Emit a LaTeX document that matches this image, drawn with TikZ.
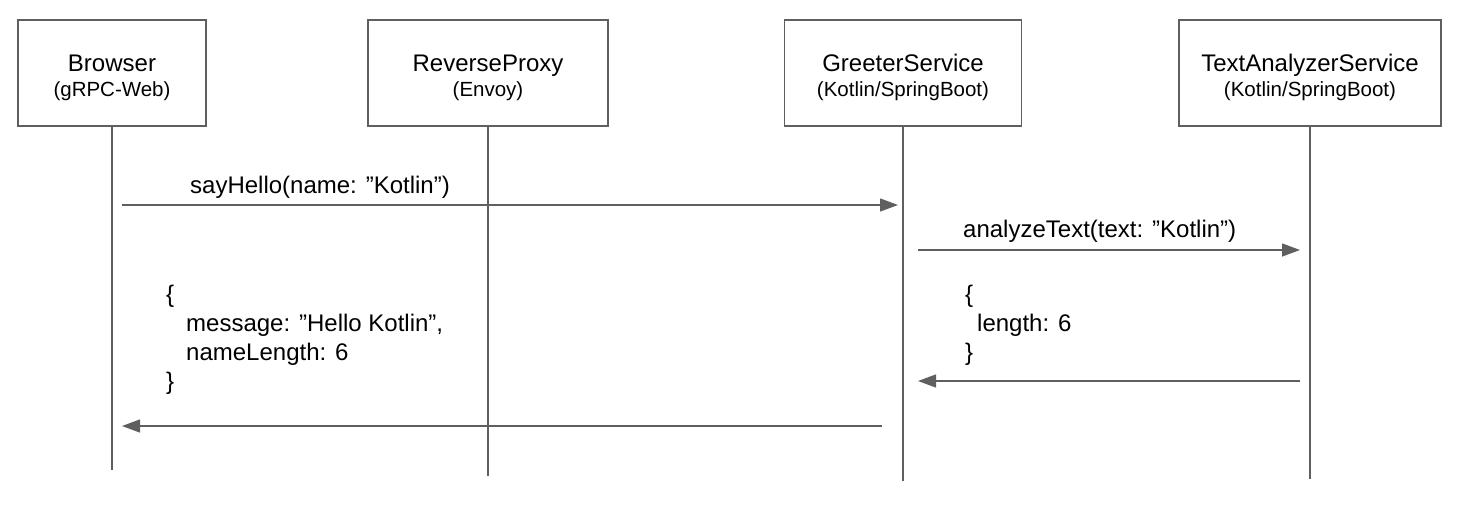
\documentclass[tikz,border=0pt]{standalone}
\usepackage{fontspec}
\setmainfont{Liberation Sans}
\usetikzlibrary{arrows.meta}
\definecolor{ln}{HTML}{5F5F5F}
\begin{document}
\begin{tikzpicture}[x=1pt,y=-1pt,
  actor/.style={draw=ln, line width=1.3pt, fill=white, minimum height=106pt, inner sep=0pt, align=center, font=\fontsize{24}{25}\selectfont},
  life/.style={draw=ln, line width=1.3pt},
  msg/.style={draw=ln, line width=1.3pt, -{Triangle[length=18pt,width=13pt]}, color=ln},
  lbl/.style={inner sep=0pt, anchor=base west, font=\fontsize{24}{29}\selectfont},
  blk/.style={inner sep=0pt, anchor=north west, align=left, font=\fontsize{24}{29}\selectfont}]
\useasboundingbox (0,0) rectangle (1466,508);
\newcommand{\sub}[1]{{\fontsize{20.5}{25}\selectfont #1}}
\newcommand{\topgap}{\rule{0pt}{27pt}}
% actors
\node[actor, minimum width=188pt] (browser) at (112,73) {\topgap Browser\\\sub{(gRPC-Web)}};
\node[actor, minimum width=240pt] (proxy) at (488,73) {\topgap ReverseProxy\\\sub{(Envoy)}};
\node[actor, minimum width=237pt] (greeter) at (903,73) {\topgap GreeterService\\\sub{(Kotlin/SpringBoot)}};
\node[actor, minimum width=262pt] (analyzer) at (1310,73) {\topgap TextAnalyzerService\\\sub{(Kotlin/SpringBoot)}};
% lifeline ends
\coordinate (bEnd) at (112,470);
\coordinate (pEnd) at (488,476);
\coordinate (gEnd) at (903,481);
\coordinate (aEnd) at (1310,479);
\draw[life] (browser.south) -- (bEnd);
\draw[life] (proxy.south) -- (pEnd);
\draw[life] (greeter.south) -- (gEnd);
\draw[life] (analyzer.south) -- (aEnd);
% message anchor points
\path (browser.south |- 0,205) ++(10,0) coordinate (m1s);
\path (greeter.south |- 0,205) ++(-5,0) coordinate (m1e);
\path (greeter.south |- 0,250) ++(15,0) coordinate (m2s);
\path (analyzer.south |- 0,250) ++(-10,0) coordinate (m2e);
\path (analyzer.south |- 0,381) ++(-10,0) coordinate (m3s);
\path (greeter.south |- 0,381) ++(15,0) coordinate (m3e);
\path (greeter.south |- 0,426) ++(-21,0) coordinate (m4s);
\path (browser.south |- 0,426) ++(10,0) coordinate (m4e);
\draw[msg] (m1s) -- (m1e);
\draw[msg] (m2s) -- (m2e);
\draw[msg] (m3s) -- (m3e);
\draw[msg] (m4s) -- (m4e);
% labels
\node[lbl] (l1) at (190,193) {sayHello(name: ”Kotlin”)};
\node[lbl] (l2) at (963,237) {analyzeText(text: ”Kotlin”)};
\node[blk] (l3) at (965,285) {\{\\\hspace*{12pt}length: 6\\\}};
\node[blk] (l4) at (166,285) {\{\\\hspace*{20pt}message: ”Hello Kotlin”,\\\hspace*{20pt}nameLength: 6\\\}};
\end{tikzpicture}
\end{document}
